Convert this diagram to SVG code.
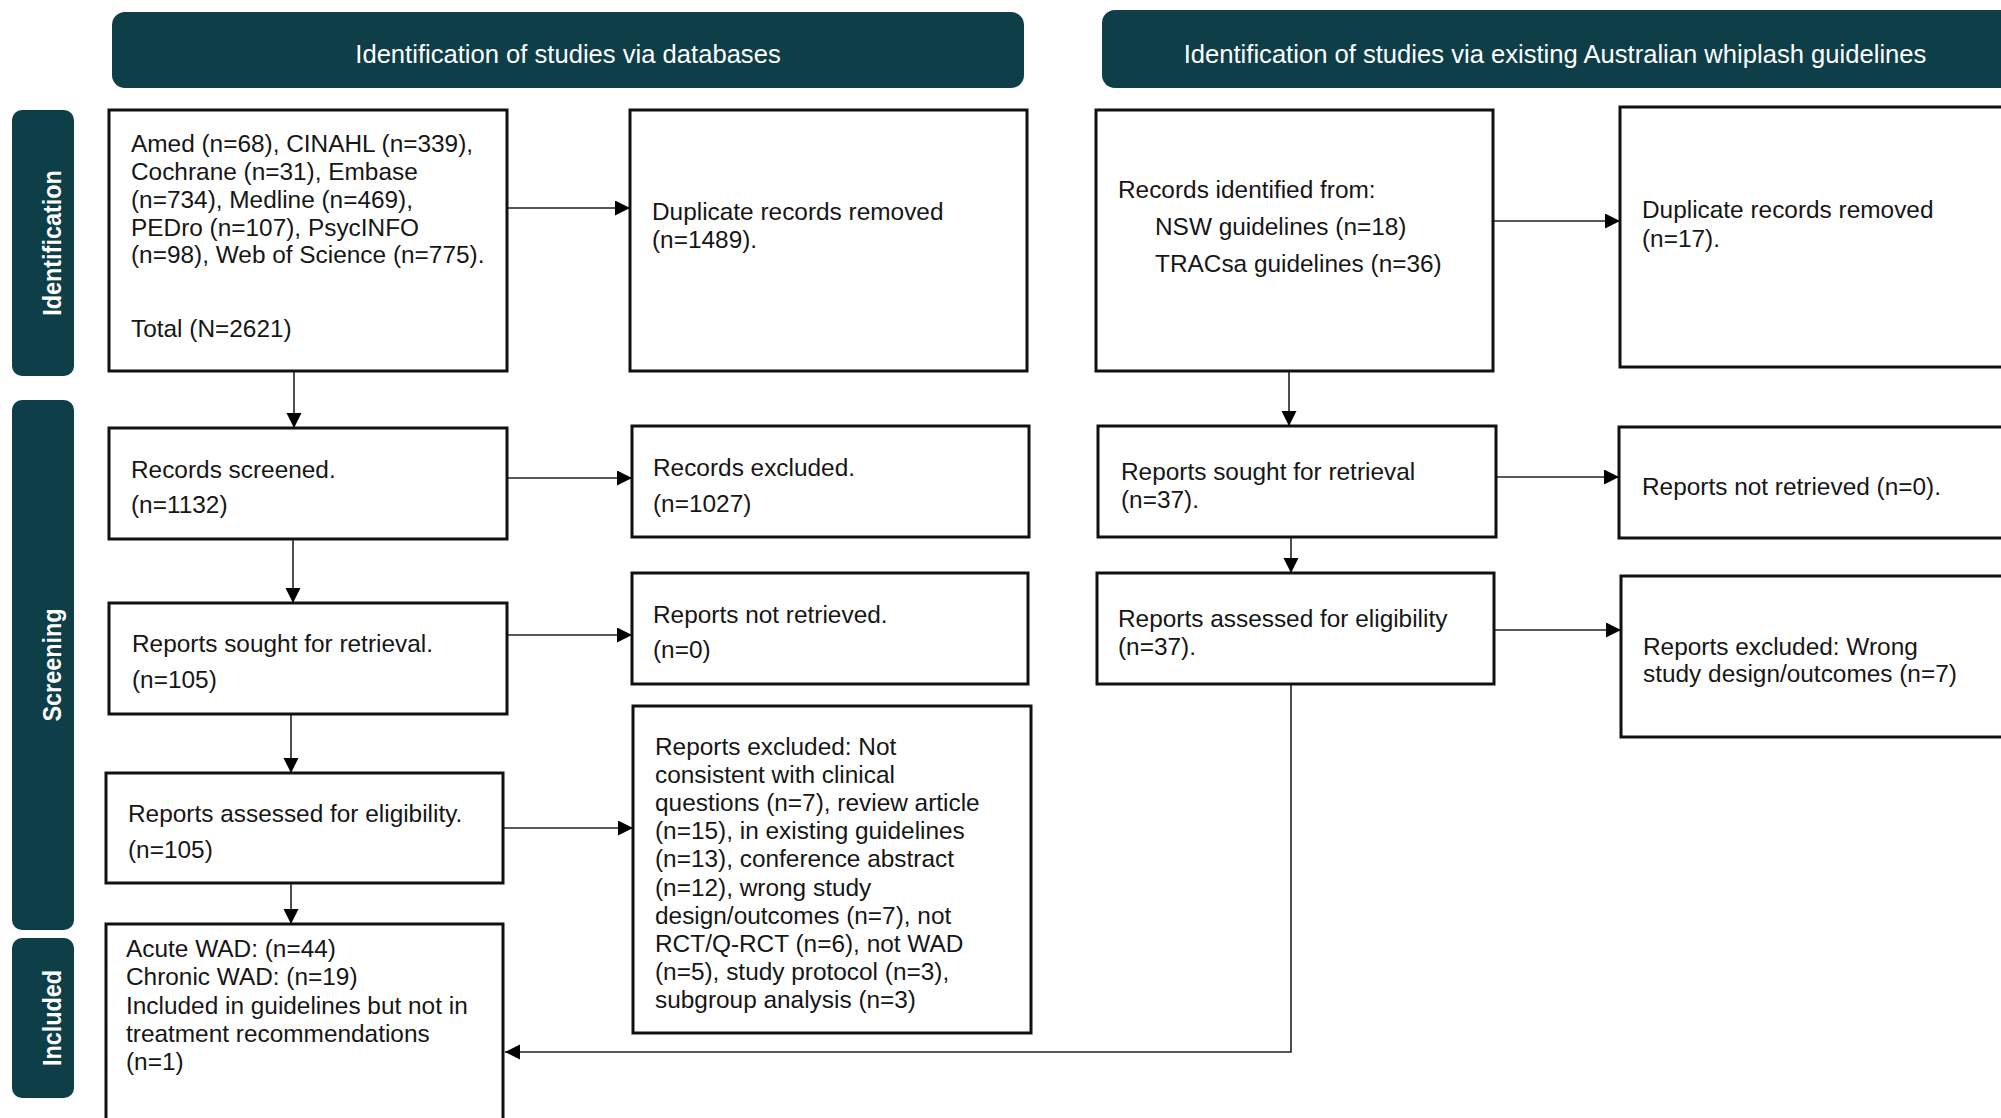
<svg xmlns="http://www.w3.org/2000/svg" width="2001" height="1118" viewBox="0 0 2001 1118">
<style>
.hdr{fill:#0e3e48}
.side{fill:#0e3e48}
.hdrt{font-family:"Liberation Sans",Arial,sans-serif;font-size:25.6px;fill:#ffffff;text-anchor:middle}
.sidet{font-family:"Liberation Sans",Arial,sans-serif;font-size:26px;font-weight:bold;fill:#ffffff;text-anchor:middle}
.box{fill:#ffffff;stroke:#111111;stroke-width:3}
.t{font-family:"Liberation Sans",Arial,sans-serif;font-size:24.4px;fill:#161616}
.conn{fill:none;stroke:#222222;stroke-width:1.6}
</style>
<defs>
<marker id="arr" markerUnits="userSpaceOnUse" markerWidth="16" markerHeight="16" refX="15" refY="7.5" orient="auto">
<path d="M0,0 L15,7.5 L0,15 z" fill="#000000"/>
</marker>
</defs>
<rect width="2001" height="1118" fill="#ffffff"/>

<g id="header-databases">
<rect class="hdr" x="112" y="12" width="912" height="76" rx="13"/>
<text class="hdrt" x="568" y="63">Identification of studies via databases</text>
</g>
<g id="header-guidelines">
<rect class="hdr" x="1102" y="10" width="920" height="78" rx="13"/>
<text class="hdrt" x="1555" y="63">Identification of studies via existing Australian whiplash guidelines</text>
</g>

<g id="side-identification">
<rect class="side" x="12" y="110" width="62" height="266" rx="10"/>
<text class="sidet" transform="translate(61,243) rotate(-90) scale(0.9,1)">Identification</text>
</g>
<g id="side-screening">
<rect class="side" x="12" y="400" width="62" height="530" rx="10"/>
<text class="sidet" transform="translate(61,665) rotate(-90) scale(0.9,1)">Screening</text>
</g>
<g id="side-included">
<rect class="side" x="12" y="938" width="62" height="160" rx="10"/>
<text class="sidet" transform="translate(61,1018) rotate(-90) scale(0.9,1)">Included</text>
</g>

<g id="connectors">
<path class="conn" d="M507,208 H630" marker-end="url(#arr)"/>
<path class="conn" d="M294,371 V428" marker-end="url(#arr)"/>
<path class="conn" d="M507,478 H632" marker-end="url(#arr)"/>
<path class="conn" d="M293,539 V603" marker-end="url(#arr)"/>
<path class="conn" d="M507,635 H632" marker-end="url(#arr)"/>
<path class="conn" d="M291,714 V773" marker-end="url(#arr)"/>
<path class="conn" d="M503,828 H633" marker-end="url(#arr)"/>
<path class="conn" d="M291,883 V924" marker-end="url(#arr)"/>
<path class="conn" d="M1493,221 H1620" marker-end="url(#arr)"/>
<path class="conn" d="M1289,371 V426" marker-end="url(#arr)"/>
<path class="conn" d="M1496,477 H1619" marker-end="url(#arr)"/>
<path class="conn" d="M1291,537 V573" marker-end="url(#arr)"/>
<path class="conn" d="M1494,630 H1621" marker-end="url(#arr)"/>
<path class="conn" d="M1291,684 V1052 H505" marker-end="url(#arr)"/>
</g>

<g id="box-databases">
<rect class="box" x="109" y="110" width="398" height="261"/>
<text class="t" x="131"><tspan x="131" y="152">Amed (n=68), CINAHL (n=339),</tspan><tspan x="131" y="180">Cochrane (n=31), Embase</tspan><tspan x="131" y="208">(n=734), Medline (n=469),</tspan><tspan x="131" y="236">PEDro (n=107), PsycINFO</tspan><tspan x="131" y="263">(n=98), Web of Science (n=775).</tspan><tspan x="131" y="337">Total (N=2621)</tspan></text>
</g>
<g id="box-duplicates-db">
<rect class="box" x="630" y="110" width="397" height="261"/>
<text class="t"><tspan x="652" y="220">Duplicate records removed</tspan><tspan x="652" y="248">(n=1489).</tspan></text>
</g>
<g id="box-records-screened">
<rect class="box" x="109" y="428" width="398" height="111"/>
<text class="t"><tspan x="131" y="478">Records screened.</tspan><tspan x="131" y="513">(n=1132)</tspan></text>
</g>
<g id="box-records-excluded">
<rect class="box" x="632" y="426" width="397" height="111"/>
<text class="t"><tspan x="653" y="476">Records excluded.</tspan><tspan x="653" y="512">(n=1027)</tspan></text>
</g>
<g id="box-sought-db">
<rect class="box" x="109" y="603" width="398" height="111"/>
<text class="t"><tspan x="132" y="652">Reports sought for retrieval.</tspan><tspan x="132" y="688">(n=105)</tspan></text>
</g>
<g id="box-not-retrieved-db">
<rect class="box" x="632" y="573" width="396" height="111"/>
<text class="t"><tspan x="653" y="623">Reports not retrieved.</tspan><tspan x="653" y="658">(n=0)</tspan></text>
</g>
<g id="box-assessed-db">
<rect class="box" x="106" y="773" width="397" height="110"/>
<text class="t"><tspan x="128" y="822">Reports assessed for eligibility.</tspan><tspan x="128" y="858">(n=105)</tspan></text>
</g>
<g id="box-excluded-db">
<rect class="box" x="633" y="706" width="398" height="327"/>
<text class="t"><tspan x="655" y="755">Reports excluded: Not</tspan><tspan x="655" y="783">consistent with clinical</tspan><tspan x="655" y="811">questions (n=7), review article</tspan><tspan x="655" y="839">(n=15), in existing guidelines</tspan><tspan x="655" y="867">(n=13), conference abstract</tspan><tspan x="655" y="896">(n=12), wrong study</tspan><tspan x="655" y="924">design/outcomes (n=7), not</tspan><tspan x="655" y="952">RCT/Q-RCT (n=6), not WAD</tspan><tspan x="655" y="980">(n=5), study protocol (n=3),</tspan><tspan x="655" y="1008">subgroup analysis (n=3)</tspan></text>
</g>
<g id="box-included">
<rect class="box" x="106" y="924" width="397" height="220"/>
<text class="t"><tspan x="126" y="957">Acute WAD: (n=44)</tspan><tspan x="126" y="985">Chronic WAD: (n=19)</tspan><tspan x="126" y="1014">Included in guidelines but not in</tspan><tspan x="126" y="1042">treatment recommendations</tspan><tspan x="126" y="1070">(n=1)</tspan></text>
</g>

<g id="box-guidelines">
<rect class="box" x="1096" y="110" width="397" height="261"/>
<text class="t"><tspan x="1118" y="198">Records identified from:</tspan><tspan x="1155" y="235">NSW guidelines (n=18)</tspan><tspan x="1155" y="272">TRACsa guidelines (n=36)</tspan></text>
</g>
<g id="box-duplicates-gl">
<rect class="box" x="1620" y="107" width="420" height="260"/>
<text class="t"><tspan x="1642" y="218">Duplicate records removed</tspan><tspan x="1642" y="247">(n=17).</tspan></text>
</g>
<g id="box-sought-gl">
<rect class="box" x="1098" y="426" width="398" height="111"/>
<text class="t"><tspan x="1121" y="480">Reports sought for retrieval</tspan><tspan x="1121" y="508">(n=37).</tspan></text>
</g>
<g id="box-not-retrieved-gl">
<rect class="box" x="1619" y="427" width="420" height="111"/>
<text class="t" x="1642" y="495">Reports not retrieved (n=0).</text>
</g>
<g id="box-assessed-gl">
<rect class="box" x="1097" y="573" width="397" height="111"/>
<text class="t"><tspan x="1118" y="627">Reports assessed for eligibility</tspan><tspan x="1118" y="655">(n=37).</tspan></text>
</g>
<g id="box-excluded-gl">
<rect class="box" x="1621" y="576" width="420" height="161"/>
<text class="t"><tspan x="1643" y="655">Reports excluded: Wrong</tspan><tspan x="1643" y="682">study design/outcomes (n=7)</tspan></text>
</g>
</svg>
